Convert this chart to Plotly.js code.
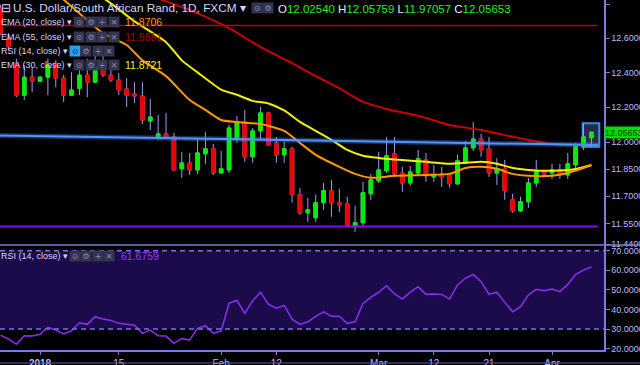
<!DOCTYPE html>
<html><head><meta charset="utf-8">
<script src="https://cdn.plot.ly/plotly-3.0.1.min.js"></script>
<style>html,body{margin:0;padding:0;background:#000;}#chart{width:640px;height:365px;}</style>
</head><body><div id="chart"></div>
<script>
// ---------- DATA ----------
const dates = [
 '2017-12-25','2017-12-26','2017-12-27','2017-12-28','2017-12-29',
 '2018-01-01','2018-01-02','2018-01-03','2018-01-04','2018-01-05',
 '2018-01-08','2018-01-09','2018-01-10','2018-01-11','2018-01-12',
 '2018-01-15','2018-01-16','2018-01-17','2018-01-18','2018-01-19',
 '2018-01-22','2018-01-23','2018-01-24','2018-01-25','2018-01-26',
 '2018-01-29','2018-01-30','2018-01-31','2018-02-01','2018-02-02',
 '2018-02-05','2018-02-06','2018-02-07','2018-02-08','2018-02-09',
 '2018-02-12','2018-02-13','2018-02-14','2018-02-15','2018-02-16',
 '2018-02-19','2018-02-20','2018-02-21','2018-02-22','2018-02-23',
 '2018-02-26','2018-02-27','2018-02-28','2018-03-01','2018-03-02',
 '2018-03-05','2018-03-06','2018-03-07','2018-03-08','2018-03-09',
 '2018-03-12','2018-03-13','2018-03-14','2018-03-15','2018-03-16',
 '2018-03-19','2018-03-20','2018-03-21','2018-03-22','2018-03-23',
 '2018-03-26','2018-03-27','2018-03-28','2018-03-29','2018-03-30',
 '2018-04-02','2018-04-03','2018-04-04','2018-04-05','2018-04-06',
 '2018-04-09'];
const openP = [12.78,12.60,12.453,12.268,12.372,
 12.349,12.372,12.453,12.366,12.268,
 12.308,12.384,12.343,12.43,12.384,
 12.355,12.303,12.274,12.263,12.12,
 12.03,12.047,12.03,11.851,11.884,
 11.845,11.935,11.963,11.828,11.845,
 12.018,12.114,11.918,12.064,12.166,
 11.996,11.929,11.963,11.708,11.609,
 11.582,11.664,11.73,11.664,11.658,
 11.533,11.555,11.713,11.784,11.84,
 11.935,11.828,11.773,11.828,11.901,
 11.806,11.823,11.817,11.768,11.89,
 11.968,12.018,11.963,11.828,11.851,
 11.68,11.62,11.669,11.773,11.834,
 11.828,11.845,11.817,11.873,11.974,
 12.0254];
const highP = [12.80,12.63,12.48,12.442,12.43,
 12.378,12.48,12.471,12.384,12.401,
 12.459,12.48,12.50,12.50,12.471,
 12.396,12.366,12.343,12.343,12.246,
 12.154,12.166,12.052,11.946,11.94,
 12.024,12.058,11.991,11.951,12.098,
 12.149,12.183,12.08,12.20,12.172,
 12.03,12.002,11.974,11.746,11.691,
 11.708,11.773,11.79,11.741,11.697,
 11.647,11.779,11.823,11.946,12.03,
 12.03,11.862,11.867,11.957,11.94,
 11.873,11.862,11.828,11.929,12.007,
 12.114,12.047,12.03,11.912,11.901,
 11.713,11.697,11.801,11.901,11.845,
 11.879,11.879,11.94,11.996,12.103,
 12.05759];
const lowP = [12.62,12.53,12.257,12.24,12.286,
 12.343,12.268,12.314,12.229,12.263,
 12.268,12.257,12.337,12.372,12.343,
 12.268,12.20,12.223,12.103,12.069,
 12.013,12.024,11.84,11.801,11.817,
 11.823,11.879,11.817,11.826,11.828,
 11.996,11.89,11.884,12.013,11.98,
 11.884,11.884,11.664,11.598,11.56,
 11.56,11.625,11.587,11.614,11.535,
 11.506,11.533,11.68,11.773,11.828,
 11.806,11.724,11.757,11.817,11.779,
 11.779,11.751,11.746,11.762,11.884,
 11.951,11.918,11.806,11.762,11.68,
 11.609,11.614,11.636,11.751,11.806,
 11.795,11.795,11.795,11.845,11.957,
 11.97057];
const closeP = [12.63,12.55,12.268,12.372,12.349,
 12.372,12.442,12.366,12.268,12.297,
 12.384,12.343,12.43,12.384,12.355,
 12.297,12.268,12.263,12.126,12.143,
 12.047,12.03,11.845,11.884,11.845,
 11.94,11.963,11.828,11.851,12.08,
 12.114,11.918,12.064,12.166,11.985,
 11.929,11.963,11.708,11.609,11.625,
 11.664,11.73,11.664,11.653,11.538,
 11.555,11.719,11.79,11.845,11.924,
 11.823,11.773,11.834,11.907,11.812,
 11.817,11.806,11.768,11.896,11.968,
 12.018,11.957,11.828,11.851,11.73,
 11.62,11.669,11.773,11.834,11.823,
 11.845,11.817,11.879,11.974,12.03,
 12.05653];

const ema20Dates = ['2017-12-25','2018-01-01','2018-01-04','2018-01-11','2018-01-16','2018-01-18','2018-01-23','2018-01-26','2018-01-30','2018-02-01','2018-02-05','2018-02-08','2018-02-13','2018-02-15','2018-02-19','2018-02-22','2018-02-26','2018-02-28','2018-03-05','2018-03-09','2018-03-14','2018-03-16','2018-03-20','2018-03-22','2018-03-26','2018-03-28','2018-04-02','2018-04-04','2018-04-09'];
const ema20 = [13.05,12.93,12.83,12.63,12.56,12.47,12.378,12.24,12.183,12.126,12.114,12.103,12.064,11.996,11.929,11.862,11.823,11.801,11.812,11.817,11.823,11.856,11.862,11.851,11.823,11.812,11.812,11.828,11.8706];

const ema30Dates = ['2017-12-25','2018-01-01','2018-01-11','2018-01-17','2018-01-23','2018-01-25','2018-01-29','2018-02-01','2018-02-05','2018-02-07','2018-02-09','2018-02-13','2018-02-15','2018-02-19','2018-02-21','2018-02-23','2018-02-27','2018-03-01','2018-03-06','2018-03-09','2018-03-14','2018-03-16','2018-03-20','2018-03-22','2018-03-26','2018-03-28','2018-04-02','2018-04-05','2018-04-09'];
const ema30 = [13.08,13.00,12.84,12.70,12.577,12.47,12.40,12.30,12.27,12.235,12.22,12.18,12.115,12.064,12.013,11.957,11.924,11.912,11.90,11.89,11.879,11.884,11.89,11.879,11.856,11.845,11.84,11.85,11.8721];

const ema55Dates = ['2017-12-25','2018-01-01','2018-01-15','2018-01-23','2018-01-29','2018-02-02','2018-02-08','2018-02-14','2018-02-19','2018-02-22','2018-02-27','2018-03-02','2018-03-08','2018-03-14','2018-03-20','2018-03-23','2018-03-28','2018-04-02','2018-04-09'];
const ema55 = [13.18,13.10,12.93,12.82,12.75,12.66,12.548,12.454,12.378,12.308,12.229,12.189,12.15,12.097,12.069,12.04,12.013,11.99,11.9851];

const rsi = [26.9,24.9,22.2,26.6,26.4,
 27.3,30.9,29.5,27.5,29.1,
 33.2,32.4,36.3,35.1,34.4,
 32.9,32.4,31.9,27.8,29.5,
 26.6,26.4,22.7,25.1,24.4,
 30.4,31.7,27.8,29.1,43.1,
 44.7,38.0,44.5,48.8,42.6,
 40.6,42.1,35.0,32.4,33.7,
 36.5,38.8,36.5,36.5,32.9,
 33.7,43.1,46.2,48.8,52.1,
 47.9,45.3,48.8,51.6,47.7,
 47.9,47.7,45.3,52.5,55.9,
 57.9,54.2,47.7,48.8,43.6,
 38.8,41.4,47.4,50.3,49.6,
 50.4,49.1,52.8,57.9,60.1,
 61.68];

const priceTicks = [12.8,12.6,12.4,12.2,12.0,11.85,11.7,11.55,11.44];
const rsiTicks = [20,30,40,50,60,70];
const xTickDates = ['2018-01-01','2018-01-15','2018-02-01','2018-02-12','2018-03-01','2018-03-12','2018-03-21','2018-04-02'];
const xTickLabels = ['<b>2018</b>','15','Feb','12','Mar','12','21','Apr'];

const redLevel = 12.675, purpleLevel = 11.534;
const trendStart = 12.038, trendEnd = 11.984;
const boxLow = 11.975, boxHigh = 12.107;
const rsiUpper = 70, rsiLower = 30;
const legendVals = {ema20:'11.8706', ema55:'11.9851', ema30:'11.8721', rsi:'61.6759'};
const lastOHLC = {o:'12.02540', h:'12.05759', l:'11.97057', c:'12.05653'};

// ---------- STYLE ----------
const FONT = 'Liberation Sans, Arial, sans-serif';
const TXT = '#d4d4ff', AX = '#7c7ce0', TICKTXT = '#b8b8ff';
const GREEN = '#00ee00', RED = '#ee0000', WICK = '#9c9cf4';
const PW = 604, PH = 350;
const px = x => x / PW, py = y => (PH - y) / PH;

const n = dates.length;
const bodyHigh = openP.map((o,i)=>Math.max(o,closeP[i]));
const bodyLow = openP.map((o,i)=>Math.min(o,closeP[i]));

const traces = [
 {type:'scatter', mode:'lines', x:ema55Dates, y:ema55, xaxis:'x', yaxis:'y', line:{color:'#cc0000', width:2, shape:'spline', smoothing:0.6}, hoverinfo:'skip'},
 {type:'scatter', mode:'lines', x:ema30Dates, y:ema30, xaxis:'x', yaxis:'y', line:{color:'#f0f000', width:2, shape:'spline', smoothing:0.6}, hoverinfo:'skip'},
 {type:'scatter', mode:'lines', x:ema20Dates, y:ema20, xaxis:'x', yaxis:'y', line:{color:'#ff9800', width:2, shape:'spline', smoothing:0.6}, hoverinfo:'skip'},
 {type:'candlestick', x:dates, open:openP, high:highP, low:lowP, close:closeP, xaxis:'x', yaxis:'y',
  whiskerwidth:0,
  increasing:{line:{color:WICK, width:1}, fillcolor:GREEN},
  decreasing:{line:{color:WICK, width:1}, fillcolor:RED}, hoverinfo:'skip'},
 {type:'candlestick', x:dates, open:openP, high:bodyHigh, low:bodyLow, close:closeP, xaxis:'x', yaxis:'y',
  whiskerwidth:0,
  increasing:{line:{color:GREEN, width:1}, fillcolor:GREEN},
  decreasing:{line:{color:RED, width:1}, fillcolor:RED}, hoverinfo:'skip'},
 {type:'scatter', mode:'lines', x:dates, y:rsi, xaxis:'x', yaxis:'y2', line:{color:'#8f2cf5', width:1.5}, hoverinfo:'skip'}
];

const L = Math.log10;
const shapes = [
 {type:'rect', xref:'paper', yref:'y2', x0:0, x1:1, y0:rsiLower, y1:rsiUpper, fillcolor:'#1c0b4b', line:{width:0}, layer:'below'},
 {type:'line', xref:'paper', yref:'y2', x0:0, x1:1, y0:rsiUpper, y1:rsiUpper, line:{color:'#7e6ef2', width:1.5, dash:'5px,4px'}},
 {type:'line', xref:'paper', yref:'y2', x0:0, x1:1, y0:rsiLower, y1:rsiLower, line:{color:'#7e6ef2', width:1.5, dash:'5px,4px'}},
 {type:'line', xref:'paper', yref:'paper', x0:0, x1:640/PW, y0:0.3, y1:0.3, line:{color:AX, width:1.5}},
 {type:'line', xref:'paper', yref:'paper', x0:0, x1:640/PW, y0:py(363), y1:py(363), line:{color:'#5a5ab0', width:1}},
 {type:'line', xref:'paper', yref:'y', x0:0, x1:px(598), y0:redLevel, y1:redLevel, line:{color:'#c00000', width:1.5}},
 {type:'line', xref:'paper', yref:'y', x0:0, x1:px(598), y0:purpleLevel, y1:purpleLevel, line:{color:'#8a00ff', width:2}},
 {type:'line', xref:'paper', yref:'y', x0:0, x1:px(598), y0:trendStart, y1:trendEnd, line:{color:'rgba(70,140,255,0.35)', width:5}},
 {type:'line', xref:'paper', yref:'y', x0:0, x1:px(598), y0:trendStart, y1:trendEnd, line:{color:'#4f94ff', width:2}},
 {type:'rect', xref:'x', yref:'y', x0:(n-1)-1.1, x1:(n-1)+1.0, y0:boxLow, y1:boxHigh, fillcolor:'rgba(60,60,110,0.7)', line:{color:'#3d8cf0', width:2}, layer:'below'}
];

const ann = [];
function txt(x, y, text, size, color, extra) {
  ann.push(Object.assign({xref:'paper', yref:'paper', x:px(x), y:py(y), xanchor:'left', yanchor:'middle',
    text:text, showarrow:false, font:{family:FONT, size:size, color:color}, borderpad:0}, extra||{}));
}
function icon(x, y, glyph, bg, fg) {
  ann.push({xref:'paper', yref:'paper', x:px(x), y:py(y), xanchor:'left', yanchor:'middle', text:glyph,
    showarrow:false, bgcolor:bg, width:10, height:10, borderpad:0, align:'center',
    font:{family:'DejaVu Sans', size:8, color:fg}});
}
const IB = '#34344e', IF = '#8a8ab0';
// title row
txt(0, 8.5, '⊟', 12, TXT);
txt(12, 8.5, 'U.S. Dollar/South African Rand, 1D, FXCM ▾', 11.8, TXT);
icon(251, 8.5, '⊙', IB, IF); icon(262, 8.5, '⚙', IB, IF);
const G = c => '<span style="color:#22ee22">'+c+'</span>';
txt(277, 9, 'O'+G(lastOHLC.o)+' H'+G(lastOHLC.h)+' L'+G(lastOHLC.l)+' C'+G(lastOHLC.c), 11.5, '#e8e8ff');
// indicator rows
const rows = [
 {y:22.5, label:'EMA (20, close) ▾', val:legendVals.ema20, col:'#ff9800', ix:73},
 {y:36.5, label:'EMA (55, close) ▾', val:legendVals.ema55, col:'#b00000', ix:73},
 {y:51, label:'RSI (14, close) ▾', val:null, col:null, ix:69, blue:true},
 {y:64.5, label:'EMA (30, close) ▾', val:legendVals.ema30, col:'#f0f000', ix:73},
 {y:256, label:'RSI (14, close) ▾', val:legendVals.rsi, col:'#9a33ff', ix:69}
];
rows.forEach(r => {
  txt(0, r.y, r.label, 9, TXT);
  const g = ['⊙','⚙','+','✕'];
  g.forEach((gl,k) => icon(r.ix + k*11.5, r.y, gl, (r.blue && k===0) ? '#2a9ff0' : IB, (r.blue && k===0) ? '#0a2a50' : IF));
  if (r.val) txt(r.ix + 51, r.y, r.val, 10.5, r.col);
});
// last price tag
ann.push({xref:'paper', yref:'y', x:1, y:L(parseFloat(lastOHLC.c)), xanchor:'left', yanchor:'middle',
  text:lastOHLC.c, showarrow:false, bgcolor:'#00dd00', font:{family:FONT, size:9, color:'#063206'},
  width:38, height:11, borderpad:0, align:'left'});

const layout = {
  width:640, height:365, margin:{l:0, r:36, t:0, b:15},
  paper_bgcolor:'#000', plot_bgcolor:'#000', showlegend:false, hovermode:false,
  boxgap:0.35, boxmode:'overlay',
  xaxis:{type:'category', categoryorder:'array', categoryarray:dates, range:[-0.08, 76.6], anchor:'y2',
    rangeslider:{visible:false}, showgrid:false, zeroline:false, showline:true, linecolor:AX, linewidth:1.5,
    ticks:'outside', ticklen:3, tickcolor:AX, tickvals:xTickDates, ticktext:xTickLabels,
    tickfont:{family:FONT, size:10, color:TICKTXT}},
  yaxis:{type:'log', domain:[0.3,1], range:[1.05823, 1.10817], side:'right', anchor:'x',
    showgrid:false, zeroline:false, showline:true, linecolor:AX, linewidth:1.5,
    ticks:'outside', ticklen:4, tickcolor:AX, tickvals:priceTicks, ticktext:priceTicks.map(v=>v.toFixed(5)),
    tickfont:{family:FONT, size:9, color:TICKTXT}},
  yaxis2:{domain:[0,0.3], range:[19.3,72.9], side:'right', anchor:'x',
    showgrid:false, zeroline:false, showline:true, linecolor:AX, linewidth:1.5,
    ticks:'outside', ticklen:4, tickcolor:AX, tickvals:rsiTicks, ticktext:rsiTicks.map(v=>v.toFixed(4)),
    tickfont:{family:FONT, size:9, color:TICKTXT}},
  shapes:shapes, annotations:ann
};
Plotly.newPlot('chart', traces, layout, {staticPlot:true, displayModeBar:false});
</script></body></html>
